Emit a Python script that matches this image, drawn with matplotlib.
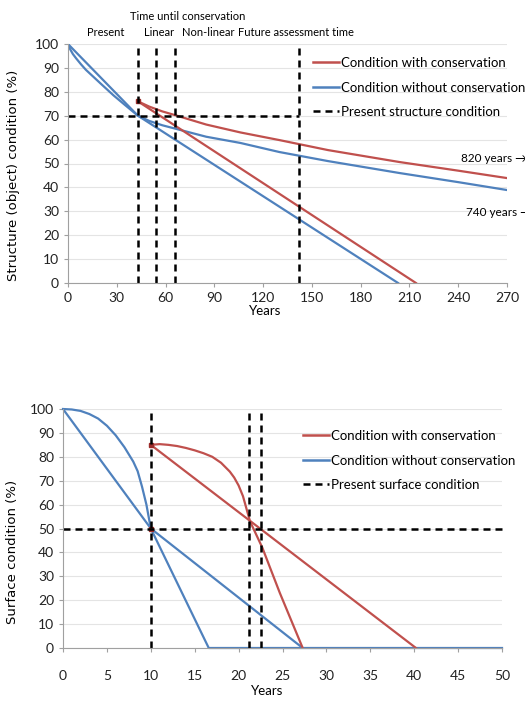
import matplotlib
matplotlib.use("Agg")
import matplotlib.pyplot as plt
from matplotlib.lines import Line2D

plt.rcParams['font.family'] = ['Lato', 'DejaVu Sans']

# top chart: structure condition
top_x_lin_without = [0, 43, 203]
top_y_lin_without = [100, 70, 0]
top_x_nl_without = [0, 1, 3, 5, 8, 11, 14, 20, 28, 35, 43, 50, 58, 67, 85, 106, 130, 160, 204, 240, 270]
top_y_nl_without = [100, 98.2, 95.8, 94, 91.5, 89.2, 87.3, 83.5, 78.5, 74.5, 70, 67.8, 66, 64.4, 61.2, 58.6, 54.8, 51, 46, 42.2, 38.9]
top_x_lin_with = [43, 214]
top_y_lin_with = [76, 0]
top_x_nl_with = [43, 50, 58, 67, 85, 106, 130, 160, 204, 240, 270]
top_y_nl_with = [76, 73.8, 71.8, 70, 66.3, 63, 59.8, 55.6, 50.6, 47, 43.9]
top_vlines = [43, 54, 66, 142]
top_present = 70
top_xticks = [0, 30, 60, 90, 120, 150, 180, 210, 240, 270]

# bottom chart: surface condition
bot_x_lin_without = [0, 10, 27.3]
bot_y_lin_without = [100, 50, 0]
bot_x_nl_without = [0, 1, 2, 3, 4, 5, 6, 7, 8, 8.5, 9, 9.5, 10, 16.6, 50]
bot_y_nl_without = [100, 99.8, 99.2, 97.9, 96, 93, 89, 84, 78, 74, 67.5, 60, 50, 0, 0]
bot_x_lin_with = [10, 40.2]
bot_y_lin_with = [85, 0]
bot_x_nl_with = [10, 11, 12, 13, 14, 15, 16, 17, 18, 19, 19.5, 20, 20.5, 21.3, 22.7, 24.7, 27.3]
bot_y_nl_with = [85, 85.3, 85, 84.5, 83.7, 82.7, 81.5, 80, 77.5, 73.8, 71.3, 68, 63.5, 53, 42, 23, 0]
bot_vlines = [10, 21.2, 22.5]
bot_present = 50
bot_xticks = [0, 5, 10, 15, 20, 25, 30, 35, 40, 45, 50]

yticks = [0, 10, 20, 30, 40, 50, 60, 70, 80, 90, 100]

red = '#C0504D'
blue = '#4F81BD'
dash = (2.8, 2.0)

fig = plt.figure(figsize=(5.25, 7.01), dpi=100)
fig.set_facecolor('white')

W, H = 525, 701
ax1 = fig.add_axes([68 / W, 1 - 283 / H, 439 / W, 239 / H])
ax2 = fig.add_axes([63 / W, 1 - 648 / H, 439 / W, 239 / H])


def style(ax, xmax, xticks):
    ax.set_xlim(0, xmax)
    ax.set_ylim(0, 100)
    ax.set_xticks(xticks)
    ax.set_yticks(yticks)
    ax.grid(axis='y', color='#e4e4e4', lw=0.8)
    ax.set_axisbelow(True)
    for s in ['top', 'right']:
        ax.spines[s].set_visible(False)
    for s in ['left', 'bottom']:
        ax.spines[s].set_color('#a0a0a0')
    ax.tick_params(colors='#a0a0a0', labelcolor='#222222', labelsize=10, length=3)


style(ax1, 270, top_xticks)
style(ax2, 50, bot_xticks)
ax2.tick_params(axis='x', pad=13)

# top lines
ax1.plot(top_x_lin_without, top_y_lin_without, color=blue, lw=1.6)
ax1.plot(top_x_nl_without, top_y_nl_without, color=blue, lw=1.6)
ax1.plot(top_x_lin_with, top_y_lin_with, color=red, lw=1.6)
ax1.plot(top_x_nl_with, top_y_nl_with, color=red, lw=1.6)
ax1.plot(top_x_lin_with[0], top_y_lin_with[0], 's', color='#9b2c2a', ms=3)
for v in top_vlines:
    ax1.plot([v, v], [0, 100], color='black', lw=1.8, dashes=dash, clip_on=False)
ax1.plot([0, top_vlines[-1]], [top_present, top_present], color='black', lw=1.8, dashes=dash)

ax1.text(242, 52, '820 years \u2192', fontsize=8.5, ha='left', va='center', clip_on=False)
ax1.text(245, 29.5, '740 years \u2192', fontsize=8.5, ha='left', va='center', clip_on=False)
ax1.set_xlabel('Years', fontsize=9.5)
ax1.xaxis.set_label_coords(0.45, -0.092)
ax1.set_ylabel('Structure (object) condition (%)', fontsize=9.5, family='DejaVu Sans')
ax1.yaxis.set_label_coords(-0.11, 0.45)

fig.text(188 / W, 1 - 17 / H, 'Time until conservation', fontsize=8, ha='center', va='center')
fig.text(106 / W, 1 - 33 / H, 'Present', fontsize=8, ha='center', va='center')
fig.text(159 / W, 1 - 33 / H, 'Linear', fontsize=8, ha='center', va='center')
fig.text(208 / W, 1 - 33 / H, 'Non-linear', fontsize=8, ha='center', va='center')
fig.text(238 / W, 1 - 33 / H, 'Future assessment time', fontsize=8, ha='left', va='center')

# bottom lines
ax2.plot(bot_x_lin_without, bot_y_lin_without, color=blue, lw=1.6)
ax2.plot(bot_x_nl_without, bot_y_nl_without, color=blue, lw=1.6, clip_on=False)
ax2.plot(bot_x_lin_with, bot_y_lin_with, color=red, lw=1.6)
ax2.plot(bot_x_nl_with, bot_y_nl_with, color=red, lw=1.6)
ax2.plot([bot_x_lin_with[0], bot_x_lin_with[0]], [bot_y_lin_with[0], bot_present], 's',
         color='#9b2c2a', ms=3)
for v in bot_vlines:
    ax2.plot([v, v], [0, 100], color='black', lw=1.8, dashes=dash, clip_on=False)
ax2.plot([0, 50], [bot_present, bot_present], color='black', lw=1.8, dashes=dash, clip_on=False)

ax2.set_xlabel('Years', fontsize=9.5)
ax2.xaxis.set_label_coords(0.465, -0.155)
ax2.set_ylabel('Surface condition (%)', fontsize=9.5, family='DejaVu Sans')
ax2.yaxis.set_label_coords(-0.1, 0.4)

# legends
def handles(label3):
    return [Line2D([], [], color=red, lw=1.8),
            Line2D([], [], color=blue, lw=1.8),
            Line2D([], [], color='black', lw=1.8, dashes=dash)], \
           ['Condition with conservation', 'Condition without conservation', label3]


h, l = handles('Present structure condition')
fig.legend(h, l, loc='upper left', bbox_to_anchor=(313 / W, 1 - 57 / H), frameon=False,
           fontsize=9.5, handlelength=2.0, handletextpad=0.15, labelspacing=0.95,
           borderaxespad=0, borderpad=0)
h, l = handles('Present surface condition')
fig.legend(h, l, loc='upper left', bbox_to_anchor=(303 / W, 1 - 430 / H), frameon=False,
           fontsize=9.5, handlelength=2.0, handletextpad=0.15, labelspacing=0.95,
           borderaxespad=0, borderpad=0)

plt.savefig('out.png', dpi=100, facecolor='white')
